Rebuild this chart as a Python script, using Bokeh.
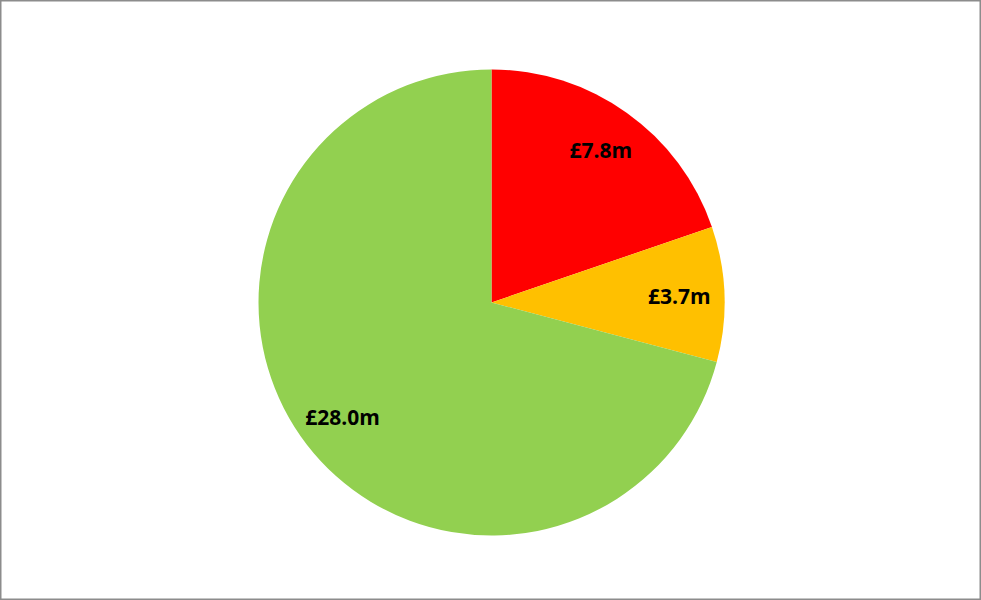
import math
from bokeh.plotting import figure
from bokeh.models import ColumnDataSource
from bokeh.core.properties import value
from bokeh.embed import file_html
from bokeh.resources import INLINE

labels = ["£7.8m", "£3.7m", "£28.0m"]
values = [7.8, 3.7, 28.0]
colors = ["#FF0000", "#FFC000", "#92D050"]

W, H = 981, 600
cx, cy, r = 491, H - 302, 233
label_r = 188

total = sum(values)
starts, ends, lx, ly = [], [], [], []
acc = 0.0
for v in values:
    a0 = math.pi / 2 - 2 * math.pi * acc / total
    a1 = math.pi / 2 - 2 * math.pi * (acc + v) / total
    starts.append(a1)
    ends.append(a0)
    mid = (a0 + a1) / 2
    lx.append(cx + label_r * math.cos(mid))
    ly.append(cy + label_r * math.sin(mid))
    acc += v

src = ColumnDataSource(dict(start=starts, end=ends, color=colors, label=labels, lx=lx, ly=ly))

p = figure(width=W, height=H, x_range=(0, W), y_range=(0, H), output_backend="svg",
           toolbar_location=None, min_border=0)
p.axis.visible = False
p.grid.visible = False
p.outline_line_color = "#8c8c8c"
p.outline_line_width = 2
p.background_fill_color = "white"

p.wedge(x=cx, y=cy, radius=r, start_angle="start", end_angle="end", color="color",
        line_color=None, source=src)
p.text(x="lx", y="ly", text="label", source=src, text_align="center", text_baseline="middle",
       text_font=value("Open Sans"), text_font_style="bold", text_font_size="21px", text_color="black")

open("out.html", "w").write(file_html(p, INLINE))
